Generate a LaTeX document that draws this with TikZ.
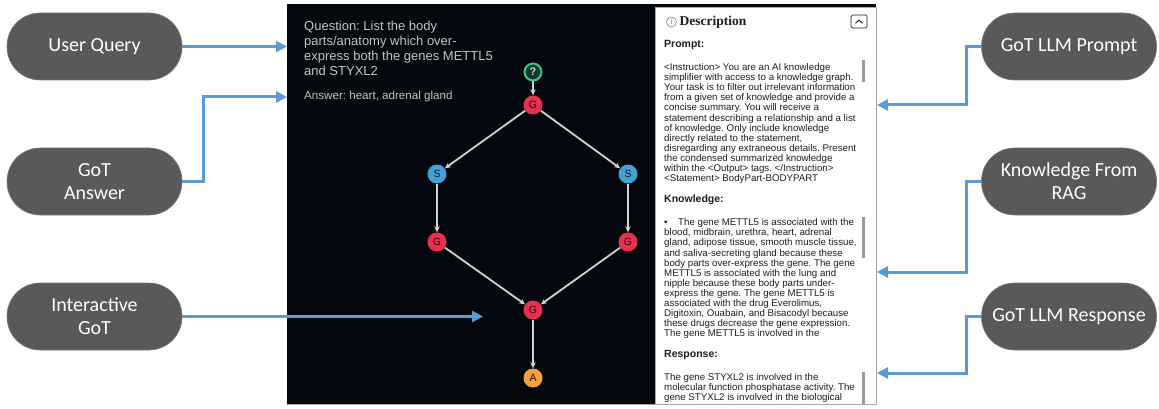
\documentclass[tikz,border=0pt]{standalone}
\usepackage{fontspec}
\setmainfont{Liberation Sans}
\newfontfamily\pillfont{Carlito}
\newfontfamily\headfont{Liberation Serif}
\usetikzlibrary{arrows.meta}
\frenchspacing

\definecolor{pillgray}{HTML}{595959}
\definecolor{pilledge}{HTML}{7A7A7A}
\definecolor{flow}{HTML}{5B9BD5}
\definecolor{screen}{HTML}{05070F}
\definecolor{edgegray}{HTML}{D2D2D2}
\definecolor{gnode}{HTML}{E8304F}
\definecolor{snode}{HTML}{3FA3D8}
\definecolor{anode}{HTML}{F2A33A}
\definecolor{qring}{HTML}{3CC48F}
\definecolor{qfill}{HTML}{16382C}
\definecolor{qtext}{HTML}{C4C4C4}
\definecolor{desctext}{HTML}{1E1E1E}
\definecolor{bar}{HTML}{9A9A9A}
\definecolor{frame}{HTML}{A8A8A8}
\definecolor{letter}{HTML}{2A0A10}

\tikzset{
  pill/.style={rectangle, rounded corners=33pt, minimum width=175pt, minimum height=67pt,
    fill=pillgray, draw=pilledge, line width=0.6pt, text=white,
    font=\pillfont\fontsize{20}{23}\selectfont, align=center, inner sep=0pt},
  flowarrow/.style={draw=flow, line width=3pt, -{Triangle[length=11pt,width=11pt]}},
  gedge/.style={draw=edgegray, line width=1.8pt, -{Stealth[length=6pt,width=5.5pt]}},
  gbase/.style={circle, minimum size=19pt, inner sep=0pt,
    font=\fontsize{10.5}{10.5}\selectfont, text=letter},
  gnodest/.style={gbase, fill=gnode},
  snodest/.style={gbase, fill=snode},
  anodest/.style={gbase, fill=anode},
  qnodest/.style={gbase, fill=qfill, draw=qring, line width=2pt, minimum size=17pt,
    font=\bfseries\fontsize{11}{11}\selectfont, text=qring!40!white},
  heading/.style={anchor=west, inner sep=0pt, text=desctext,
    font=\bfseries\fontsize{10.5}{12}\selectfont},
  bodytext/.style={anchor=north west, inner sep=0pt, align=left, text=desctext,
    font=\fontsize{9.7}{10.1}\selectfont},
}

\begin{document}
\begin{tikzpicture}[x=1pt,y=-1pt]
\useasboundingbox (0,0) rectangle (1159,409);

% application screen: dark canvas and description side panel
\fill[screen] (287,4) rectangle (876,404);
\draw[frame, line width=0.8pt] (287,404.5) -- (876,404.5);
\filldraw[fill=white, draw=frame, line width=0.8pt] (655,7) rectangle (876,404);

% question and answer on the canvas
\node[anchor=north west, inner sep=0pt, align=left, text=qtext,
  font=\fontsize{13}{15}\selectfont] (question) at (304,21)
  {Question: List the body\\parts/anatomy which over-\\express both the genes METTL5\\and STYXL2};
\node[anchor=west, inner sep=0pt, text=qtext, font=\fontsize{11.6}{14}\selectfont]
  (answer) at (304,97) {Answer: heart, adrenal gland};

% graph of thoughts
\node[qnodest] (q) at (533,72) {?};
\node[gnodest] (g1) at (533,105) {G};
\node[snodest] (s1) at (437,174) {S};
\node[snodest] (s2) at (628,174) {S};
\node[gnodest] (g2) at (437,242) {G};
\node[gnodest] (g3) at (628,242) {G};
\node[gnodest] (g4) at (533,310) {G};
\node[anodest] (a) at (533,378) {A};
\draw[gedge] (q) -- (g1);
\draw[gedge] (g1) -- (s1);
\draw[gedge] (g1) -- (s2);
\draw[gedge] (s1) -- (g2);
\draw[gedge] (s2) -- (g3);
\draw[gedge] (g2) -- (g4);
\draw[gedge] (g3) -- (g4);
\draw[gedge] (g4) -- (a);

% description panel header
\draw[gray, line width=0.6pt] (671.5,22) circle (5pt);
\node[inner sep=0pt, text=gray, font=\headfont\itshape\fontsize{8}{8}\selectfont] (info) at (671.5,22) {i};
\node[anchor=west, inner sep=0pt, text=desctext,
  font=\headfont\bfseries\fontsize{13.5}{14}\selectfont] (dtitle) at (679.5,22.5) {Description};
\draw[desctext, line width=0.7pt, rounded corners=1.5pt] (851,15) rectangle (867,28);
\draw[desctext, line width=0.9pt] (855.5,23.3) -- (859,20) -- (862.5,23.3);

% description panel sections
\node[heading] (prompth) at (664,45) {Prompt:};
\node[bodytext] (prompt) at (664,63.3) {%
<Instruction> You are an AI knowledge\\
simplifier with access to a knowledge graph.\\
Your task is to filter out irrelevant information\\
from a given set of knowledge and provide a\\
concise summary. You will receive a\\
statement describing a relationship and a list\\
of knowledge. Only include knowledge\\
directly related to the statement,\\
disregarding any extraneous details. Present\\
the condensed summarized knowledge\\
within the <Output> tags. </Instruction>\\
<Statement> BodyPart-BODYPART};

\node[heading] (knowh) at (664,200) {Knowledge:};
\node[bodytext] (know) at (664,218.5) {%
\makebox[14pt][l]{\textbullet}The gene METTL5 is associated with the\\
blood, midbrain, urethra, heart, adrenal\\
gland, adipose tissue, smooth muscle tissue,\\
and saliva-secreting gland because these\\
body parts over-express the gene. The gene\\
METTL5 is associated with the lung and\\
nipple because these body parts under-\\
express the gene. The gene METTL5 is\\
associated with the drug Everolimus,\\
Digitoxin, Ouabain, and Bisacodyl because\\
these drugs decrease the gene expression.\\
The gene METTL5 is involved in the};

\node[heading] (resph) at (664,355) {Response:};
\begin{scope}
\clip (656,360) rectangle (875,403.5);
\node[bodytext] (resp) at (664,373.5) {%
The gene STYXL2 is involved in the\\
molecular function phosphatase activity. The\\
gene STYXL2 is involved in the biological\\
process dephosphorylation. The gene};
\end{scope}

% scroll bars
\fill[bar] (862,60) rectangle (865,82);
\fill[bar] (862,217) rectangle (865,258);
\fill[bar] (862,372) rectangle (865,403.5);

% labels around the screen
\node[pill] (uq) at (94.5,46.5) {User Query};
\node[pill] (ga) at (94.5,181.5) {GoT\\Answer};
\node[pill] (ig) at (94.5,316.5) {Interactive\\GoT};
\node[pill] (lp) at (1069,46.5) {GoT LLM Prompt};
\node[pill] (kr) at (1069,181.5) {Knowledge From\\RAG};
\node[pill] (lr) at (1069,316.5) {GoT LLM Response};

% connectors into the screen
\coordinate (uqIn) at (287,46.5);
\coordinate (gaIn) at (287,97);
\coordinate (igIn) at (483,316.5);
\coordinate (lpIn) at (877,105);
\coordinate (krIn) at (877,272);
\coordinate (lrIn) at (877,373);
\draw[flowarrow] (uq.east) -- (uqIn);
\draw[flowarrow] (ga.east) -- ++(21,0) |- (gaIn);
\draw[flowarrow] (ig.east) -- (igIn);
\draw[flowarrow] (lp.west) -- ++(-15,0) |- (lpIn);
\draw[flowarrow] (kr.west) -- ++(-15,0) |- (krIn);
\draw[flowarrow] (lr.west) -- ++(-15,0) |- (lrIn);
\end{tikzpicture}
\end{document}
